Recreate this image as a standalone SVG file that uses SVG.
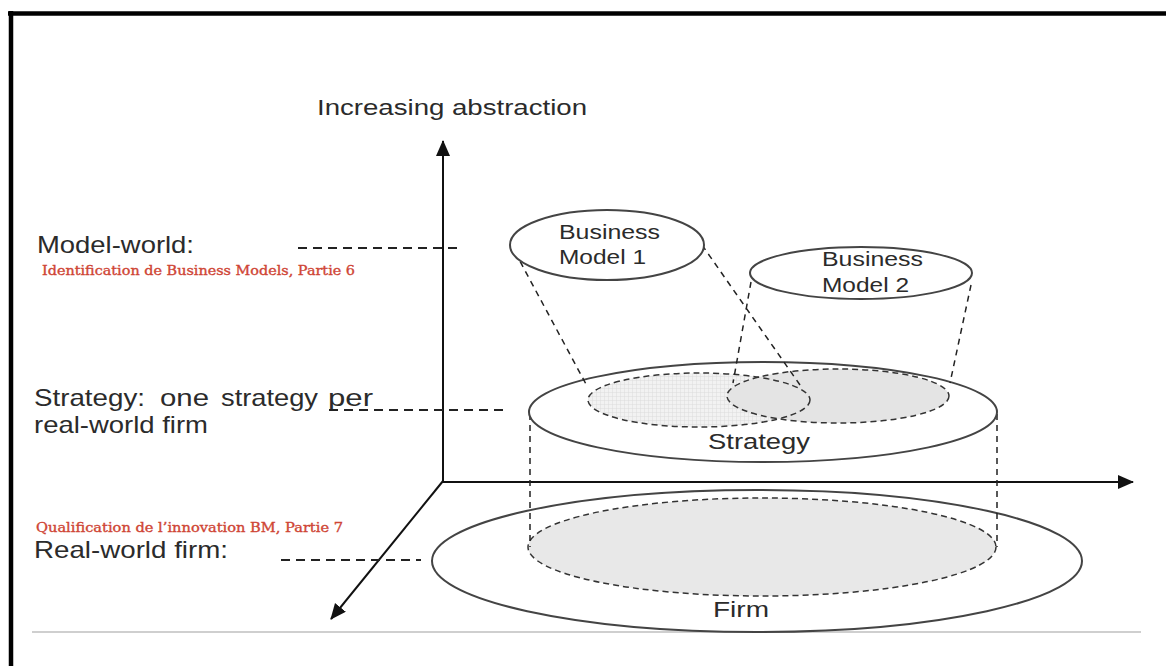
<svg xmlns="http://www.w3.org/2000/svg" width="1166" height="666" viewBox="0 0 1166 666">
<defs>
<marker id="arr" markerUnits="userSpaceOnUse" markerWidth="18" markerHeight="16" refX="15" refY="7" orient="auto">
<path d="M0,0 L16,7 L0,14 z" fill="#111"/>
</marker>
<pattern id="hatch" patternUnits="userSpaceOnUse" width="4" height="4">
<rect width="4" height="4" fill="#f2f2f2"/>
<path d="M0,0 H4 M0,0 V4" stroke="#dcdcdc" stroke-width="1"/>
</pattern>
</defs>
<style>
.lbl{font-family:"Liberation Sans",Arial,sans-serif;fill:#2b2b2b}
.red{font-family:"DejaVu Serif","Liberation Serif",serif;fill:#cf4535;stroke:#cf4535;stroke-width:0.35;font-size:12.5px}
.axis{stroke:#111;stroke-width:2;fill:none}
.dash{stroke:#222;stroke-width:2;stroke-dasharray:9 6;fill:none}
.thin{stroke:#222;stroke-width:1.5;stroke-dasharray:6 5;fill:none}
.fdash{stroke:#333;stroke-width:1.5;stroke-dasharray:6 4}
.solid{stroke:#444;stroke-width:2}
</style>
<rect width="1166" height="666" fill="#fff"/>
<g id="frame">
<line x1="8" y1="13.5" x2="1166" y2="13.5" stroke="#000" stroke-width="4.5"/>
<line x1="11" y1="11" x2="11" y2="666" stroke="#000" stroke-width="4.5"/>
<line x1="32" y1="632" x2="1141" y2="632" stroke="#cfcfcf" stroke-width="2"/>
</g>
<g id="labels">
<text class="lbl" x="317" y="115" font-size="22" textLength="270" lengthAdjust="spacingAndGlyphs">Increasing abstraction</text>
<text class="lbl" x="37" y="253" font-size="24" textLength="157" lengthAdjust="spacingAndGlyphs">Model-world:</text>
<text class="red" x="42" y="275" textLength="313" lengthAdjust="spacingAndGlyphs">Identification de Business Models, Partie 6</text>
<text class="lbl" y="406" font-size="24"><tspan x="34" textLength="111" lengthAdjust="spacingAndGlyphs">Strategy:</tspan><tspan x="160" textLength="49" lengthAdjust="spacingAndGlyphs">one</tspan><tspan x="221" textLength="97" lengthAdjust="spacingAndGlyphs">strategy</tspan><tspan x="328" textLength="45" lengthAdjust="spacingAndGlyphs">per</tspan></text>
<text class="lbl" x="34" y="433" font-size="24" textLength="174" lengthAdjust="spacingAndGlyphs">real-world firm</text>
<text class="red" x="36" y="532" textLength="307" lengthAdjust="spacingAndGlyphs">Qualification de l’innovation BM, Partie 7</text>
<text class="lbl" x="34" y="558" font-size="24" textLength="194" lengthAdjust="spacingAndGlyphs">Real-world firm:</text>
</g>
<g id="firm">
<ellipse cx="757" cy="561" rx="325" ry="71" fill="#fff" class="solid"/>
<ellipse cx="762" cy="547" rx="234" ry="49" fill="#e8e8e8" class="fdash"/>
<text class="lbl" x="713" y="617" font-size="22" textLength="56" lengthAdjust="spacingAndGlyphs">Firm</text>
</g>
<g id="connectors">
<line class="axis" x1="443" y1="481" x2="443" y2="141" marker-end="url(#arr)"/>
<line class="axis" x1="442" y1="482" x2="1133" y2="482" marker-end="url(#arr)"/>
<line class="axis" x1="443" y1="481" x2="331" y2="619" marker-end="url(#arr)"/>
<line class="dash" x1="298" y1="248" x2="463" y2="248"/>
<line class="dash" x1="329" y1="410" x2="503" y2="410"/>
<line class="dash" x1="281" y1="560" x2="421" y2="560"/>
<line class="thin" x1="530" y1="414" x2="530" y2="547"/>
<line class="thin" x1="997" y1="414" x2="997" y2="547"/>
</g>
<g id="strategy">
<ellipse cx="763" cy="412" rx="234" ry="50" fill="#fff" class="solid"/>
<ellipse cx="699" cy="400" rx="111" ry="27" fill="url(#hatch)"/>
<ellipse cx="838" cy="396" rx="111" ry="27" fill="#e4e4e4"/>
<ellipse cx="699" cy="400" rx="111" ry="27" fill="none" class="fdash"/>
<ellipse cx="838" cy="396" rx="111" ry="27" fill="none" class="fdash"/>
<text class="lbl" x="708" y="449" font-size="22" textLength="102" lengthAdjust="spacingAndGlyphs">Strategy</text>
</g>
<g id="cones">
<line class="thin" x1="515" y1="252" x2="587" y2="386"/>
<line class="thin" x1="702" y1="245" x2="800" y2="385"/>
<line class="thin" x1="751" y1="282" x2="733" y2="383"/>
<line class="thin" x1="971" y1="285" x2="950" y2="383"/>
</g>
<g id="bm1">
<ellipse cx="607" cy="245" rx="97" ry="35" fill="#fff" class="solid"/>
<text class="lbl" font-size="20"><tspan x="559" y="239" textLength="101" lengthAdjust="spacingAndGlyphs">Business</tspan><tspan x="559" y="264" textLength="87" lengthAdjust="spacingAndGlyphs">Model 1</tspan></text>
</g>
<g id="bm2">
<ellipse cx="861" cy="273" rx="111" ry="26" fill="#fff" class="solid"/>
<text class="lbl" font-size="20"><tspan x="822" y="266" textLength="101" lengthAdjust="spacingAndGlyphs">Business</tspan><tspan x="822" y="292" textLength="87" lengthAdjust="spacingAndGlyphs">Model 2</tspan></text>
</g>
</svg>
